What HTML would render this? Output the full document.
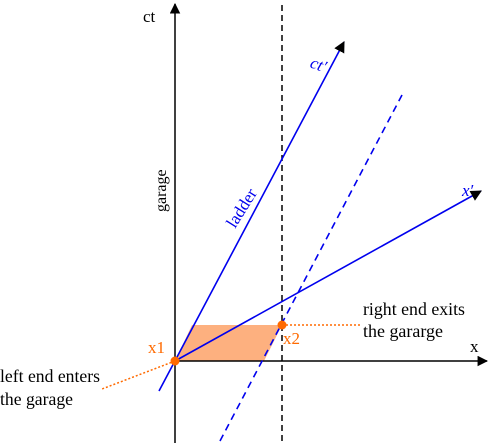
<!DOCTYPE html>
<html><head><style>
html,body{margin:0;padding:0;background:#fff;}
svg{display:block;font-family:"Liberation Serif",serif;}
</style></head><body>
<svg width="500" height="443" viewBox="0 0 500 443">
<defs>
<marker id="ab" viewBox="0 0 10 10" refX="9" refY="5" markerWidth="7" markerHeight="7" orient="auto"><path d="M0,0L10,5L0,10z" fill="#000"/></marker>
</defs>
<polygon points="175,361 192,325 282,325 264,361" fill="#fdb07f"/>
<line x1="175" y1="361" x2="487" y2="361" stroke="#000" stroke-width="1.5" marker-end="url(#ab)"/>
<line x1="175" y1="443" x2="175" y2="4" stroke="#000" stroke-width="1.5" marker-end="url(#ab)"/>
<line x1="282" y1="5" x2="282" y2="443" stroke="#000" stroke-width="1.5" stroke-dasharray="6,4"/>
<line x1="159" y1="391" x2="344" y2="42" stroke="#0000ee" stroke-width="1.6" marker-end="url(#ab)"/>
<line x1="175" y1="361" x2="481" y2="191" stroke="#0000ee" stroke-width="1.6" marker-end="url(#ab)"/>
<line x1="220" y1="441" x2="402" y2="95" stroke="#0000ee" stroke-width="1.6" stroke-dasharray="7,5"/>
<line x1="175" y1="361" x2="102" y2="389" stroke="#ff6a00" stroke-width="1.5" stroke-dasharray="2,2"/>
<line x1="282" y1="325" x2="360" y2="325" stroke="#ff6a00" stroke-width="1.5" stroke-dasharray="2,2"/>
<circle cx="175" cy="361" r="4.5" fill="#ff6a00"/>
<circle cx="282" cy="325" r="4.5" fill="#ff6a00"/>
<text x="143" y="22" font-size="17">ct</text>
<text x="470" y="352" font-size="17">x</text>
<text x="310" y="70" font-size="17" fill="#0000ee" font-style="italic" transform="rotate(20 318 66)">ct′</text>
<text x="462" y="196" font-size="17" fill="#0000ee" font-style="italic">x′</text>
<text x="0" y="0" font-size="17" fill="#0000ee" transform="translate(235,229) rotate(-58)">ladder</text>
<text x="0" y="0" font-size="16" transform="translate(166,212) rotate(-90)">garage</text>
<text x="148" y="353" font-size="17" fill="#ff6a00">x1</text>
<text x="283" y="344" font-size="17" fill="#ff6a00">x2</text>
<text x="363" y="315" font-size="18" textLength="102" lengthAdjust="spacingAndGlyphs">right end exits</text>
<text x="363" y="337" font-size="18" textLength="80" lengthAdjust="spacingAndGlyphs">the gararge</text>
<text x="0" y="382" font-size="18" textLength="100" lengthAdjust="spacingAndGlyphs">left end enters</text>
<text x="0" y="405" font-size="18" textLength="73" lengthAdjust="spacingAndGlyphs">the garage</text>
</svg>
</body></html>
